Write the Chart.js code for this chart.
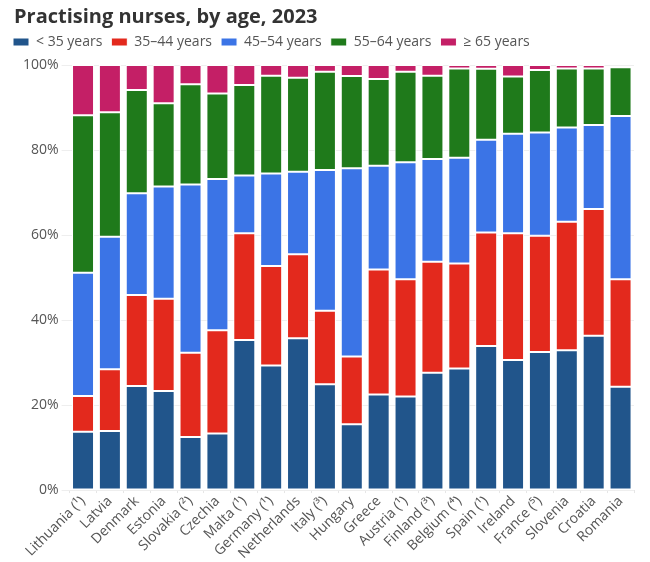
<!DOCTYPE html>
<html>
<head>
<meta charset="utf-8">
<script src="https://cdn.jsdelivr.net/npm/chart.js@4.4.1/dist/chart.umd.min.js"></script>
<style>
  html, body { margin: 0; padding: 0; background: #fff; }
  #wrap { width: 650px; height: 562px; position: relative; }
</style>
</head>
<body>
<div id="wrap"><canvas id="c"></canvas></div>
<script>
const categories = ["Lithuania (¹)", "Latvia", "Denmark", "Estonia", "Slovakia (²)", "Czechia", "Malta (¹)", "Germany (¹)", "Netherlands", "Italy (³)", "Hungary", "Greece", "Austria (¹)", "Finland (³)", "Belgium (⁴)", "Spain (¹)", "Ireland", "France (⁵)", "Slovenia", "Croatia", "Romania"];
const seriesNames = ["< 35 years", "35–44 years", "45–54 years", "55–64 years", "≥ 65 years"];
const under35 = [13.7, 13.9, 24.5, 23.3, 12.5, 13.3, 35.3, 29.3, 35.7, 24.9, 15.5, 22.5, 22.0, 27.6, 28.6, 33.9, 30.6, 32.5, 32.9, 36.3, 24.3];
const age35_44 = [8.4, 14.5, 21.4, 21.7, 19.8, 24.3, 25.1, 23.4, 19.8, 17.3, 15.9, 29.4, 27.6, 26.1, 24.7, 26.7, 29.8, 27.3, 30.2, 29.8, 25.3];
const age45_54 = [29.0, 31.2, 23.9, 26.4, 39.6, 35.6, 13.6, 21.8, 19.4, 33.1, 44.3, 24.4, 27.5, 24.2, 24.9, 21.8, 23.4, 24.3, 22.2, 19.8, 38.4];
const age55_64 = [37.1, 29.3, 24.3, 19.6, 23.6, 20.1, 21.3, 23.0, 22.1, 23.1, 21.7, 20.4, 21.3, 19.6, 21.0, 16.7, 13.5, 14.7, 13.9, 13.3, 11.5];
const age65plus = [11.8, 11.1, 5.9, 9.0, 4.5, 6.7, 4.7, 2.5, 3.0, 1.6, 2.6, 3.3, 1.6, 2.5, 0.8, 0.9, 2.7, 1.2, 0.8, 0.8, 0.3];
const yTicks = [0, 20, 40, 60, 80, 100];
const colors = ["#21558b", "#e3291d", "#3b74e6", "#1f7a1b", "#c41f66"];

const values = [under35, age35_44, age45_54, age55_64, age65plus];
const FONT = "'Open Sans', 'Noto Sans', sans-serif";

const headerShift = {
  id: 'headerShift',
  afterLayout(chart) {
    if (chart.legend) {
      chart.legend.left -= 16;
      chart.legend.right -= 16;
      chart.legend.top -= 6;
      chart.legend.bottom -= 6;
    }
    if (chart.titleBlock) {
      chart.titleBlock.left -= 6;
      chart.titleBlock.right -= 6;
    }
  }
};

new Chart(document.getElementById('c'), {
  type: 'bar',
  data: {
    labels: categories,
    datasets: seriesNames.map((n, i) => ({
      label: n,
      data: values[i],
      backgroundColor: colors[i],
      borderColor: '#ffffff',
      borderWidth: 1,
      borderSkipped: false,
      barPercentage: 0.88,
      categoryPercentage: 0.93
    }))
  },
  plugins: [headerShift],
  options: {
    responsive: true,
    maintainAspectRatio: false,
    animation: false,
    layout: { padding: { left: 20, right: 16, top: 2, bottom: 0 } },
    plugins: {
      title: {
        display: true,
        text: 'Practising nurses, by age, 2023',
        align: 'start',
        color: '#333333',
        font: { family: FONT, size: 20, weight: 'bold' },
        padding: { top: 3, bottom: 3 }
      },
      legend: {
        align: 'start',
        labels: {
          boxWidth: 16,
          boxHeight: 8,
          padding: 9,
          color: '#555555',
          font: { family: FONT, size: 14 }
        }
      },
      tooltip: { enabled: false }
    },
    scales: {
      x: {
        stacked: true,
        grid: { display: true, drawOnChartArea: false, tickLength: 3, color: '#e6e6e6' },
        border: { display: false },
        ticks: {
          color: '#555555',
          font: { family: FONT, size: 14 },
          maxRotation: 45,
          minRotation: 45,
          autoSkip: false,
          padding: 0
        }
      },
      y: {
        stacked: true,
        min: 0,
        max: 100,
        afterBuildTicks: (axis) => { axis.ticks = yTicks.map(v => ({ value: v })); },
        grid: { color: '#eeeeee', tickLength: 8 },
        border: { display: false },
        ticks: {
          color: '#555555',
          font: { family: FONT, size: 14 },
          padding: 3,
          callback: (v) => v + '%'
        }
      }
    }
  }
});
</script>
</body>
</html>
